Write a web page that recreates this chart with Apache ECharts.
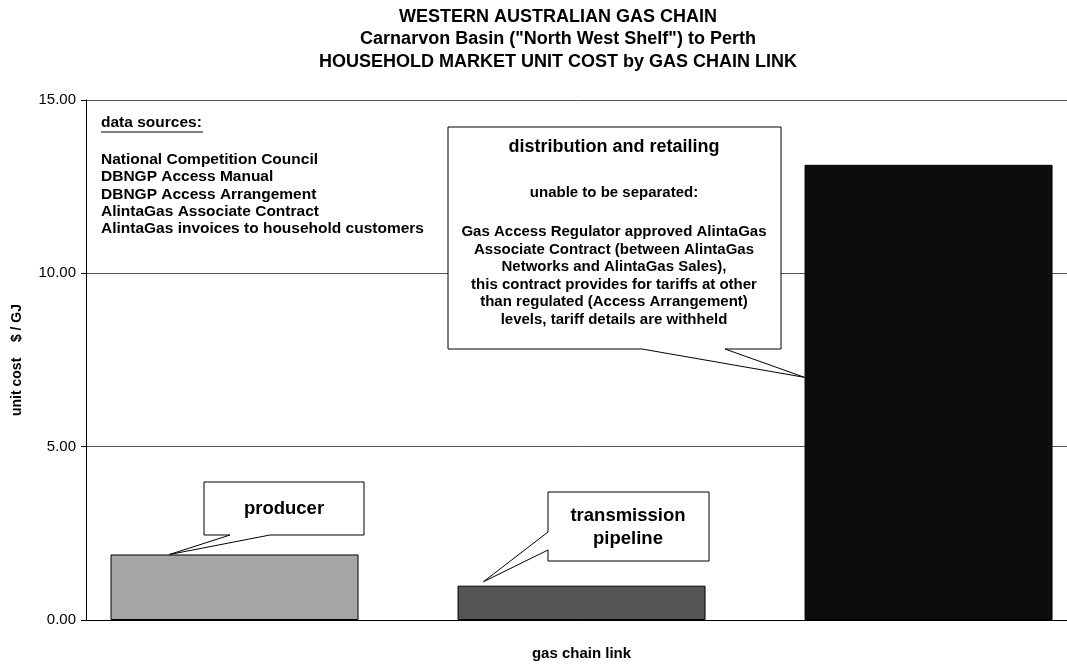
<!DOCTYPE html>
<html>
<head>
<meta charset="utf-8">
<script src="https://cdn.jsdelivr.net/npm/echarts@6/dist/echarts.min.js"></script>
<style>
  html, body { margin: 0; padding: 0; background: #fff; overflow: hidden; }
  #chart { width: 1067px; height: 666px; }
</style>
</head>
<body>
<div id="chart"></div>
<script>
// Gas chain links and their household unit cost ($/GJ)
const links = ['producer', 'transmission pipeline', 'distribution and retailing'];
const unitCost = [1.89, 0.99, 13.13];
const barColors = ['#a5a5a5', '#555555', '#0d0d0d'];

const yTicks = [0, 5, 10, 15];

const titleLines = [
  'WESTERN AUSTRALIAN GAS CHAIN',
  'Carnarvon Basin ("North West Shelf") to Perth',
  'HOUSEHOLD MARKET UNIT COST by GAS CHAIN LINK'
];

const sourcesHeading = 'data sources:';
const sources = [
  'National Competition Council',
  'DBNGP Access Manual',
  'DBNGP Access Arrangement',
  'AlintaGas Associate Contract',
  'AlintaGas invoices to household customers'
];

const distributionNote = 'unable to be separated:';
const distributionDetail = [
  'Gas Access Regulator approved AlintaGas',
  'Associate Contract (between AlintaGas',
  'Networks and AlintaGas Sales),',
  'this contract provides for tariffs at other',
  'than regulated (Access Arrangement)',
  'levels, tariff details are withheld'
];

const FONT = '"Liberation Sans", Arial, Helvetica, sans-serif';
const BAR_WIDTH = 248;
const TITLE_CENTER = 558;

const chart = echarts.init(document.getElementById('chart'), null, { renderer: 'canvas' });

chart.setOption({
  backgroundColor: '#ffffff',
  animation: false,
  grid: { left: 86, right: 0, top: 100, bottom: 37 },
  xAxis: {
    type: 'value',
    min: -0.428,
    max: 2.399,
    name: 'gas chain link',
    nameLocation: 'middle',
    nameGap: 26,
    nameTextStyle: { fontFamily: FONT, fontSize: 15, fontWeight: 'bold', color: '#000', padding: [0, 0, 0, 10] },
    axisLine: { show: true, onZero: false, lineStyle: { color: '#000', width: 1 } },
    axisTick: { show: false },
    axisLabel: { show: false },
    splitLine: { show: false }
  },
  yAxis: {
    type: 'value',
    min: yTicks[0],
    max: yTicks[yTicks.length - 1],
    interval: 5,
    name: 'unit cost    $ / GJ',
    nameLocation: 'middle',
    nameGap: 62,
    nameTextStyle: { fontFamily: FONT, fontSize: 14, fontWeight: 'bold', color: '#000' },
    axisLine: { show: true, onZero: false, lineStyle: { color: '#000', width: 1 } },
    axisTick: { show: true, inside: false, length: 5, lineStyle: { color: '#000' } },
    axisLabel: {
      fontFamily: FONT, fontSize: 15, color: '#000', margin: 10,
      formatter: v => v.toFixed(2)
    },
    splitLine: { show: true, lineStyle: { color: '#555', width: 1 } }
  },
  series: [{
    type: 'bar',
    barWidth: BAR_WIDTH,
    data: unitCost.map((v, i) => ({
      value: [i, v],
      name: links[i],
      itemStyle: { color: barColors[i], borderColor: '#000', borderWidth: 1 }
    }))
  }]
});

// Callout shapes: a box with a wedge pointing at a spot on a bar
function callout(box, wedgeA, wedgeB, tip, side) {
  const [x0, y0, x1, y1] = box;
  let pts;
  if (side === 'bottom') {
    pts = [[x0, y0], [x1, y0], [x1, y1], [wedgeB, y1], tip, [wedgeA, y1], [x0, y1]];
  } else { // wedge leaves from the left side
    pts = [[x0, y0], [x1, y0], [x1, y1], [x0, y1], [x0, wedgeB], tip, [x0, wedgeA]];
  }
  return {
    type: 'polygon',
    shape: { points: pts },
    style: { fill: '#fff', stroke: '#000', lineWidth: 1 },
    z: 10
  };
}

function text(str, x, y, size, align) {
  return {
    type: 'text',
    x: x, y: y,
    style: {
      text: str, fill: '#000', font: 'bold ' + size + 'px ' + FONT,
      textAlign: align || 'center', textVerticalAlign: 'middle'
    },
    z: 11
  };
}

function render() {
  const halfBar = BAR_WIDTH / 2;
  const p0 = chart.convertToPixel({ seriesIndex: 0 }, [0, unitCost[0]]);
  const p1 = chart.convertToPixel({ seriesIndex: 0 }, [1, unitCost[1]]);
  const p2 = chart.convertToPixel({ seriesIndex: 0 }, [2, 7.0]);

  const producerTip = [p0[0] - halfBar + 59, p0[1]];
  const pipelineTip = [p1[0] - halfBar + 26, p1[1] - 4];
  const distribTip = [p2[0] - halfBar, p2[1]];

  const els = [];

  // chart title
  titleLines.forEach((t, i) => els.push(text(t, TITLE_CENTER, 17 + i * 22.5, 18)));

  // data sources list
  els.push(text(sourcesHeading, 101, 123, 15.5, 'left'));
  els.push({
    type: 'line',
    shape: { x1: 101, y1: 132, x2: 203, y2: 132 },
    style: { stroke: '#000', lineWidth: 1.2 },
    z: 11
  });
  sources.forEach((s, i) => els.push(text(s, 101, 160 + i * 17.2, 15.5, 'left')));

  // producer
  els.push(callout([204, 482, 364, 535], 230, 270, producerTip, 'bottom'));
  els.push(text(links[0], 284, 509, 18.5));

  // transmission pipeline
  els.push(callout([548, 492, 709, 561], 532, 550, pipelineTip, 'left'));
  els.push(text('transmission', 628, 516, 18.5));
  els.push(text('pipeline', 628, 539, 18.5));

  // distribution and retailing
  els.push(callout([448, 127, 781, 349], 642, 725, distribTip, 'bottom'));
  els.push(text(links[2], 614, 147, 18));
  els.push(text(distributionNote, 614, 193, 15));
  distributionDetail.forEach((s, i) => els.push(text(s, 614, 232 + i * 17.5, 15)));

  chart.setOption({ graphic: { elements: els } });
}

render();
</script>
</body>
</html>
